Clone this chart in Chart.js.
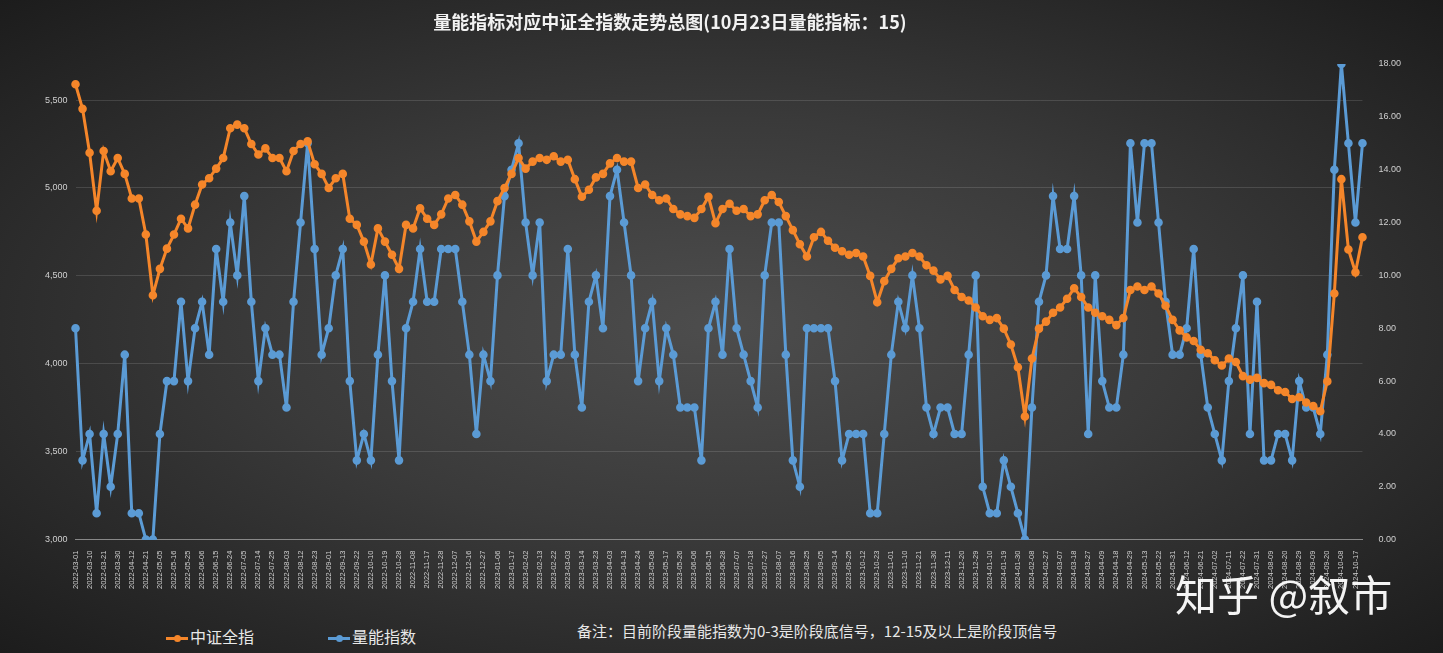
<!DOCTYPE html>
<html>
<head>
<meta charset="utf-8">
<script src="https://cdn.jsdelivr.net/npm/chart.js@4"></script>
<style>
  html, body { margin: 0; padding: 0; }
  body {
    width: 1443px; height: 653px; overflow: hidden; position: relative;
    background: radial-gradient(ellipse at 50% 50%, #4d4d4d 0%, #3a3a3a 45%, #1c1c1c 100%);
    font-family: "Noto Sans CJK SC", "Noto Sans", sans-serif;
  }
  #wrap { position: absolute; left: 0; top: 0; width: 1443px; height: 600px; }
  .title { position: absolute; top: 8px; left: 0; width: 1340px; text-align: center; color: #f2f2f2; font-size: 18px; font-weight: bold; }
  .legend { position: absolute; top: 624px; color: #e8e8e8; font-size: 16px; }
  .legend i { display: inline-block; width: 22px; height: 3px; vertical-align: middle; margin-right: 2px; position: relative; }
  .legend i::after { content: ""; position: absolute; left: 8px; top: -2px; width: 7px; height: 7px; border-radius: 50%; background: inherit; }
  .note { position: absolute; left: 577px; top: 620px; color: #e8e8e8; font-size: 15px; }
  .mark { position: absolute; left: 1175px; top: 562px; color: #ffffff; font-size: 42px; opacity: 0.95; }
</style>
</head>
<body>
<div id="wrap"><canvas id="chart"></canvas></div>
<div class="title">量能指标对应中证全指数走势总图(10月23日量能指标：15)</div>
<div class="legend" style="left:166px"><i style="background:#f5862a"></i>中证全指</div>
<div class="legend" style="left:328px"><i style="background:#5b9bd5"></i>量能指数</div>
<div class="note">备注：目前阶段量能指数为0-3是阶段底信号，12-15及以上是阶段顶信号</div>
<div class="mark">知乎 @叙市</div>
<script>
const tickDates = [
    '2022-03-01','2022-03-10','2022-03-21','2022-03-30','2022-04-12','2022-04-21','2022-05-05','2022-05-16','2022-05-25','2022-06-06',
    '2022-06-15','2022-06-24','2022-07-05','2022-07-14','2022-07-25','2022-08-03','2022-08-12','2022-08-23','2022-09-01','2022-09-13',
    '2022-09-22','2022-10-10','2022-10-19','2022-10-28','2022-11-08','2022-11-17','2022-11-28','2022-12-07','2022-12-16','2022-12-27',
    '2023-01-06','2023-01-17','2023-02-02','2023-02-13','2023-02-22','2023-03-03','2023-03-14','2023-03-23','2023-04-03','2023-04-13',
    '2023-04-24','2023-05-08','2023-05-17','2023-05-26','2023-06-06','2023-06-15','2023-06-28','2023-07-07','2023-07-18','2023-07-27',
    '2023-08-07','2023-08-16','2023-08-25','2023-09-05','2023-09-14','2023-09-25','2023-10-12','2023-10-23','2023-11-01','2023-11-10',
    '2023-11-21','2023-11-30','2023-12-11','2023-12-20','2023-12-29','2024-01-10','2024-01-19','2024-01-30','2024-02-08','2024-02-27',
    '2024-03-07','2024-03-18','2024-03-27','2024-04-09','2024-04-18','2024-04-29','2024-05-13','2024-05-22','2024-05-31','2024-06-12',
    '2024-06-21','2024-07-02','2024-07-11','2024-07-22','2024-07-31','2024-08-09','2024-08-20','2024-08-29','2024-09-09','2024-09-20',
    '2024-10-08','2024-10-17'
];

// one sample between every two tick dates
const categories = tickDates.flatMap(d => [d, '']);

const csiAll = [
    5590,5450,5200,4870,5210,5095,5170,5080,4940,4940, 4735,4390,4540,4655,4735,4825,4770,4905,5020,5055,
    5110,5170,5340,5360,5340,5250,5190,5225,5170,5170, 5095,5210,5250,5265,5135,5080,5000,5055,5080,4825,
    4790,4695,4565,4770,4695,4620,4540,4790,4770,4885, 4825,4790,4850,4940,4960,4905,4810,4695,4750,4810,
    4925,5000,5080,5170,5110,5150,5170,5160,5180,5150, 5160,5050,4950,4990,5060,5080,5140,5170,5150,5150,
    5000,5020,4960,4930,4940,4880,4850,4840,4830,4880, 4950,4800,4880,4910,4870,4880,4840,4850,4930,4960,
    4920,4840,4760,4680,4610,4720,4750,4700,4660,4640, 4620,4630,4610,4500,4350,4470,4540,4600,4610,4630,
    4610,4560,4530,4480,4500,4420,4380,4360,4320,4270, 4250,4260,4200,4110,3980,3700,4030,4200,4240,4290,
    4320,4370,4430,4380,4320,4290,4270,4250,4220,4260, 4420,4440,4420,4440,4400,4330,4250,4190,4150,4130,
    4080,4060,4020,3990,4030,4010,3930,3910,3920,3890, 3880,3850,3840,3800,3810,3780,3760,3730,3900,4400,
    5050,4650,4520,4720
];

const volumeIndex = [
    8,3,4,1,4,2,4,7,1,1, 0,0,4,6,6,9,6,8,9,7,
    11,9,12,10,13,9,6,8,7,7, 5,9,12,15,11,7,8,10,11,6,
    3,4,3,7,10,6,3,8,9,11, 9,9,11,11,11,9,7,4,7,6,
    10,13,14,15,12,10,12,6,7,7, 11,7,5,9,10,8,13,14,12,10,
    6,8,9,6,8,7,5,5,5,3, 8,9,7,11,8,7,6,5,10,12,
    12,7,3,2,8,8,8,8,6,3, 4,4,4,1,1,4,7,9,8,10,
    8,5,4,5,5,4,4,7,10,2, 1,1,3,2,1,0,5,9,10,13,
    11,11,13,10,4,10,6,5,5,7, 15,12,15,15,12,9,7,7,8,11,
    7,5,4,3,6,8,10,4,9,3, 3,4,4,3,6,5,5,4,7,14,
    18,15,12,15
];

const leftTicks = [3000, 3500, 4000, 4500, 5000, 5500];

const tickColor = '#d0d0d0';
const gridColor = 'rgba(255,255,255,0.13)';

new Chart(document.getElementById('chart'), {
    type: 'line',
    data: {
        labels: categories,
        datasets: [
            {
                label: '中证全指',
                data: csiAll,
                yAxisID: 'y',
                borderColor: '#f5862a',
                backgroundColor: '#f5862a',
                borderWidth: 3,
                pointRadius: 2.8,
                tension: 0
            },
            {
                label: '量能指数',
                data: volumeIndex,
                yAxisID: 'y1',
                borderColor: '#5b9bd5',
                backgroundColor: '#5b9bd5',
                borderWidth: 3,
                pointRadius: 2.8,
                tension: 0
            }
        ]
    },
    options: {
        responsive: true,
        maintainAspectRatio: false,
        animation: false,
        layout: { padding: { top: 64, left: 37, right: 34, bottom: 8 } },
        plugins: { legend: { display: false }, tooltip: { enabled: false } },
        scales: {
            x: {
                grid: { display: false },
                border: { color: '#888' },
                ticks: {
                    color: tickColor,
                    font: { size: 7.5 },
                    autoSkip: false,
                    maxRotation: 90,
                    minRotation: 90,
                    callback: function (value) { return categories[value]; }
                }
            },
            y: {
                position: 'left',
                min: 3000,
                max: 5705,
                afterBuildTicks: axis => { axis.ticks = leftTicks.map(v => ({ value: v })); },
                grid: { color: gridColor, drawTicks: false },
                border: { display: false },
                ticks: {
                    color: tickColor,
                    font: { size: 9 },
                    padding: 8,
                    callback: v => v.toLocaleString('en-US')
                }
            },
            y1: {
                position: 'right',
                min: 0,
                max: 18,
                grid: { display: false },
                border: { display: false },
                ticks: {
                    stepSize: 2,
                    color: tickColor,
                    font: { size: 9 },
                    padding: 8,
                    callback: v => v.toFixed(2)
                }
            }
        }
    }
});
</script>
</body>
</html>
